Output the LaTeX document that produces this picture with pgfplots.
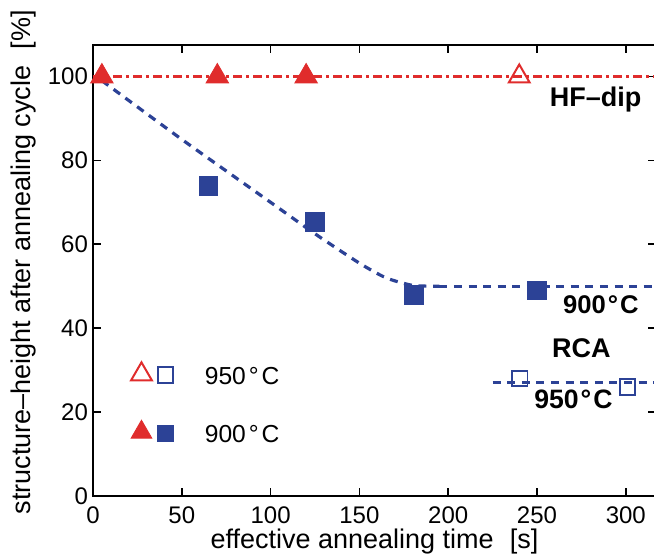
\documentclass[border=0pt]{standalone}
\usepackage{pgfplots}
\pgfplotsset{compat=1.18}
\usetikzlibrary{calc}
\usepackage{fontspec}
\setmainfont{Liberation Sans}
\definecolor{myred}{RGB}{224,44,44}
\definecolor{myblue}{RGB}{44,66,150}
\begin{document}
\begin{tikzpicture}
\begin{axis}[
  name=ax,
  scale only axis,
  width=281.5pt, height=225.5pt,
  xmin=0, xmax=317, ymin=0, ymax=107.5,
  xtick={0,50,...,300}, ytick={0,20,...,100},
  tick align=inside,
  major tick length=4pt,
  axis line style={line width=1.1pt},
  tick style={line width=0.8pt, black},
  /pgf/number format/assume math mode=true,
  ticklabel style={font=\fontsize{12}{13}\selectfont},
  xticklabel style={anchor=base, yshift=-14pt},
  yticklabel style={xshift=1pt},
  xlabel={effective annealing time\hspace{0.6em}[s]},
  ylabel={structure--height after annealing cycle\hspace{0.6em}[\%]},
  label style={font=\fontsize{13.5}{14}\selectfont},
  xlabel style={at={(axis description cs:0.5,0)}, anchor=base, yshift=-26.5pt},
  ylabel style={at={(axis description cs:-0.124,0.518)}, anchor=center},
]
% HF-dip line
\addplot[myred, line width=1.4pt, dash pattern=on 4.5pt off 2pt on 1.5pt off 2pt] coordinates {(0,100) (317,100)};
% RCA 900 fit
\addplot[myblue, line width=1.6pt, dash pattern=on 4pt off 3.3pt, smooth, tension=0.4] coordinates {
 (5,99) (50,85) (100,70) (125,62.5) (150,55.5) (165,52) (180,50.2) (195,50)};
\addplot[myblue, line width=1.6pt, dash pattern=on 4pt off 3.3pt] coordinates {(195,50) (317,50)};
% RCA 950 line
\addplot[myblue, line width=1.6pt, dash pattern=on 4pt off 3.3pt] coordinates {(225,27) (317,27)};
% red filled triangles (900)
\addplot[only marks, mark=triangle*, mark size=6.5pt, color=myred, fill=myred] coordinates {(5,100) (70,100) (120,100)};
% red open triangle (950)
\addplot[only marks, mark=triangle, mark size=6pt, color=myred, fill=white, line width=1pt] coordinates {(240,100)};
% blue filled squares (900)
\addplot[only marks, mark=square*, mark size=4.7pt, color=myblue, fill=myblue] coordinates {(65,74) (125,65.3) (180.5,48) (250,49)};
% blue open squares (950)
\addplot[only marks, mark=square, mark size=3.9pt, color=myblue, fill=white, line width=0.9pt] coordinates {(240.3,28) (301,26)};
% legend symbols
\addplot[only marks, mark=triangle, mark size=6pt, color=myred, line width=1pt] coordinates {(27.3,29)};
\addplot[only marks, mark=square, mark size=3.9pt, color=myblue, line width=0.9pt] coordinates {(40.8,28.8)};
\addplot[only marks, mark=triangle*, mark size=6pt, color=myred, fill=myred] coordinates {(27.3,15.2)};
\addplot[only marks, mark=square*, mark size=4pt, color=myblue, fill=myblue] coordinates {(40.8,15)};
\node[anchor=west, font=\fontsize{12.3}{13}\selectfont] at (axis cs:59,28.6) {950\kern1.5pt°\kern1.5pt C};
\node[anchor=west, font=\fontsize{12.3}{13}\selectfont] at (axis cs:59,14.8) {900\kern1.5pt°\kern1.5pt C};
% annotations
\node[font=\bfseries\fontsize{13.5}{14}\selectfont] at (axis cs:283,94.5) {HF--dip};
\node[font=\bfseries\fontsize{12.8}{13}\selectfont] at (axis cs:286,45.5) {900\kern1pt°\kern1pt C};
\node[font=\bfseries\fontsize{13.5}{14}\selectfont] at (axis cs:275,35.3) {RCA};
\node[font=\bfseries\fontsize{13.3}{14}\selectfont] at (axis cs:270.5,23) {950\kern1pt°\kern1pt C};
\end{axis}
\pgfresetboundingbox
\useasboundingbox ($(ax.south west)+(-46.5pt,-30pt)$) rectangle ($(ax.north east)+(-1pt,22.5pt)$);
\end{tikzpicture}
\end{document}
